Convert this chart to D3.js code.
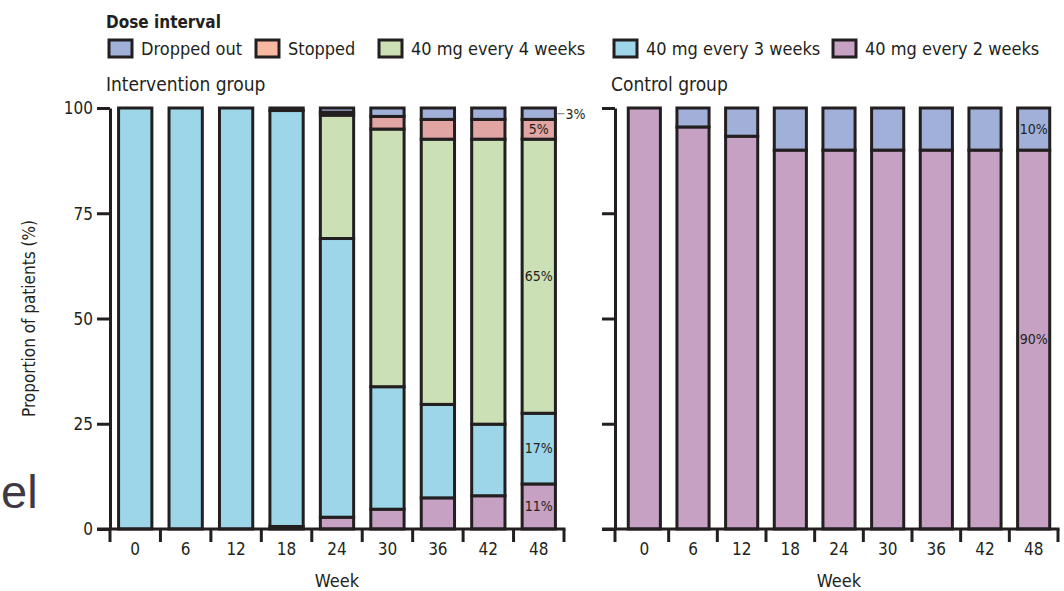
<!DOCTYPE html>
<html>
<head>
<meta charset="utf-8">
<script src="https://cdn.jsdelivr.net/npm/d3@7/dist/d3.min.js"></script>
<style>
  html, body { margin: 0; padding: 0; background: #fff; }
  svg { display: block; }
  .t { font-family: "Liberation Sans Narrow", "DejaVu Sans Condensed", "Liberation Sans", sans-serif; fill: #231f20; }
</style>
</head>
<body>
<svg id="chart" width="1064" height="591"></svg>
<script>
// Week of assessment (shared by both panels)
const weeks = ["0", "6", "12", "18", "24", "30", "36", "42", "48"];

// Intervention group, % of patients per dose interval
const intEvery2 = [0, 0, 0, 0.6, 2.8, 4.7, 7.4, 7.9, 10.7];
const intEvery3 = [100, 100, 100, 98.8, 66.2, 29.1, 22.2, 17.0, 16.8];
const intEvery4 = [0, 0, 0, 0, 29.3, 61.2, 63.0, 67.7, 65.1];
const intStopped = [0, 0, 0, 0, 0.7, 3.0, 4.7, 4.7, 4.7];
const intDropped = [0, 0, 0, 0.6, 1.0, 2.0, 2.7, 2.7, 2.7];

// Control group, % of patients per dose interval
const ctlEvery2 = [100, 95.5, 93.3, 90, 90, 90, 90, 90, 90];
const ctlDropped = [0, 4.5, 6.7, 10, 10, 10, 10, 10, 10];

const yTicks = [0, 25, 50, 75, 100];

// Series order (bottom to top) with legend names
const keys = ["every2", "every3", "every4", "stopped", "dropped"];
const legendItems = [
  { key: "dropped", label: "Dropped out" },
  { key: "stopped", label: "Stopped" },
  { key: "every4", label: "40 mg every 4 weeks" },
  { key: "every3", label: "40 mg every 3 weeks" },
  { key: "every2", label: "40 mg every 2 weeks" }
];
const barColor = { every2: "#c6a1c3", every3: "#9cd6e8", every4: "#cce0b5", stopped: "#e1a6a3", dropped: "#a0b0d8" };
const legendColor = { every2: "#c6a1c3", every3: "#9cd6e8", every4: "#cce0b5", stopped: "#f8b9a0", dropped: "#a0b0d8" };
const ink = "#231f20";

const fmtPct = d3.format(".0f");

const svg = d3.select("#chart");

const y = d3.scaleLinear().domain([0, 100]).range([529, 108]);

function rows(series) {
  return weeks.map((w, i) => {
    const r = { week: w };
    keys.forEach(k => { r[k] = series[k] ? series[k][i] : 0; });
    return r;
  });
}

const panels = [
  {
    title: "Intervention group",
    x: d3.scaleBand().domain(weeks).range([110, 564]),
    axisX: 110,
    yLabels: true,
    data: rows({ every2: intEvery2, every3: intEvery3, every4: intEvery4, stopped: intStopped, dropped: intDropped })
  },
  {
    title: "Control group",
    x: d3.scaleBand().domain(weeks).range([620, 1058]),
    axisX: 615,
    yLabels: false,
    data: rows({ every2: ctlEvery2, dropped: ctlDropped })
  }
];

const barFrac = 0.66;
const stack = d3.stack().keys(keys);

panels.forEach(p => {
  const g = svg.append("g");
  const bw = p.x.bandwidth() * barFrac;
  const off = (p.x.bandwidth() - bw) / 2;
  const series = stack(p.data);

  // stacked segments
  series.forEach(s => {
    g.append("g").selectAll("rect")
      .data(s.filter(d => d[1] - d[0] > 0))
      .join("rect")
      .attr("x", d => p.x(d.data.week) + off)
      .attr("width", bw)
      .attr("y", d => y(d[1]))
      .attr("height", d => y(d[0]) - y(d[1]))
      .attr("fill", barColor[s.key])
      .attr("stroke", ink)
      .attr("stroke-width", 3);
  });

  // y axis
  const ya = g.append("g")
    .attr("transform", `translate(${p.axisX},0)`)
    .call(d3.axisLeft(y).tickValues(yTicks).tickSize(13).tickSizeOuter(0)
      .tickFormat(p.yLabels ? d3.format("d") : () => ""));
  ya.select(".domain").attr("stroke", ink).attr("stroke-width", 3);
  ya.selectAll(".tick line").attr("stroke", ink).attr("stroke-width", 3);
  ya.selectAll(".tick text").attr("class", "t").attr("font-size", 17).attr("x", -17).attr("dy", "0.35em");

  // extend y axis below the baseline
  g.append("line")
    .attr("x1", p.axisX).attr("x2", p.axisX)
    .attr("y1", y(0)).attr("y2", y(0) + 13)
    .attr("stroke", ink).attr("stroke-width", 3);

  // x axis line with ticks at category boundaries
  const [x0, x1] = p.x.range();
  g.append("line")
    .attr("x1", p.axisX - 13).attr("x2", x1 + 1.5)
    .attr("y1", y(0)).attr("y2", y(0))
    .attr("stroke", ink).attr("stroke-width", 3);
  const bounds = weeks.slice(1).map(w => p.x(w)).concat([x1]);
  g.append("g").selectAll("line").data(bounds).join("line")
    .attr("x1", d => d).attr("x2", d => d)
    .attr("y1", y(0)).attr("y2", y(0) + 13)
    .attr("stroke", ink).attr("stroke-width", 3);

  g.append("g").selectAll("text").data(weeks).join("text")
    .attr("class", "t")
    .attr("x", d => p.x(d) + p.x.bandwidth() / 2)
    .attr("y", 555)
    .attr("text-anchor", "middle")
    .attr("font-size", 17)
    .text(d => d);

  g.append("text").attr("class", "t")
    .attr("x", (x0 + x1) / 2).attr("y", 587)
    .attr("text-anchor", "middle").attr("font-size", 18)
    .text("Week");

  g.append("text").attr("class", "t")
    .attr("x", p.axisX - 4).attr("y", 91)
    .attr("font-size", 19)
    .text(p.title);

  p.g = g; p.series = series; p.bw = bw; p.off = off;
});

// value labels on the last week's bar
function segLabels(p, keysInside) {
  const last = weeks[weeks.length - 1];
  p.series.filter(s => keysInside.includes(s.key)).forEach(s => {
    const d = s.find(v => v.data.week === last);
    p.g.append("text").attr("class", "t")
      .attr("x", p.x(last) + p.x.bandwidth() / 2)
      .attr("y", y((d[0] + d[1]) / 2))
      .attr("dy", "0.35em")
      .attr("text-anchor", "middle")
      .attr("font-size", 14)
      .attr("fill", "#3b3440")
      .text(fmtPct(d[1] - d[0]) + "%");
  });
}
segLabels(panels[0], ["every2", "every3", "every4", "stopped"]);
segLabels(panels[1], ["every2", "dropped"]);

// dropped-out share for week 48 sits outside the bar with a short leader
{
  const p = panels[0];
  const last = weeks[weeks.length - 1];
  const d = p.series.find(s => s.key === "dropped").find(v => v.data.week === last);
  const xr = p.x(last) + p.off + p.bw + 2;
  const ym = y((d[0] + d[1]) / 2);
  p.g.append("line").attr("x1", xr).attr("x2", xr + 7).attr("y1", ym).attr("y2", ym)
    .attr("stroke", "#8a8a8a").attr("stroke-width", 1.2);
  p.g.append("text").attr("class", "t")
    .attr("x", xr + 8).attr("y", ym).attr("dy", "0.35em")
    .attr("font-size", 14).attr("fill", "#3b3440")
    .text(fmtPct(d[1] - d[0]) + "%");
}

// y axis title
svg.append("text").attr("class", "t")
  .attr("transform", `translate(35,${(y(0) + y(100)) / 2}) rotate(-90)`)
  .attr("text-anchor", "middle").attr("font-size", 17)
  .text("Proportion of patients (%)");

// legend
svg.append("text").attr("class", "t")
  .attr("x", 106).attr("y", 28).attr("font-size", 17).attr("font-weight", "bold")
  .text("Dose interval");

const legendX = [109, 256, 379, 614, 833];
const lg = svg.append("g").selectAll("g").data(legendItems).join("g")
  .attr("transform", (d, i) => `translate(${legendX[i]},40)`);
lg.append("rect").attr("width", 23).attr("height", 17)
  .attr("fill", d => legendColor[d.key]).attr("stroke", ink).attr("stroke-width", 3);
lg.append("text").attr("class", "t")
  .attr("x", 32).attr("y", 9).attr("dy", "0.35em").attr("font-size", 18)
  .text(d => d.label);

// stray slide text at the left edge
svg.append("text")
  .attr("x", 1).attr("y", 508)
  .attr("font-family", "Liberation Sans, Arial, sans-serif")
  .attr("font-size", 47).attr("fill", "#3f3947")
  .text("el");
</script>
</body>
</html>
